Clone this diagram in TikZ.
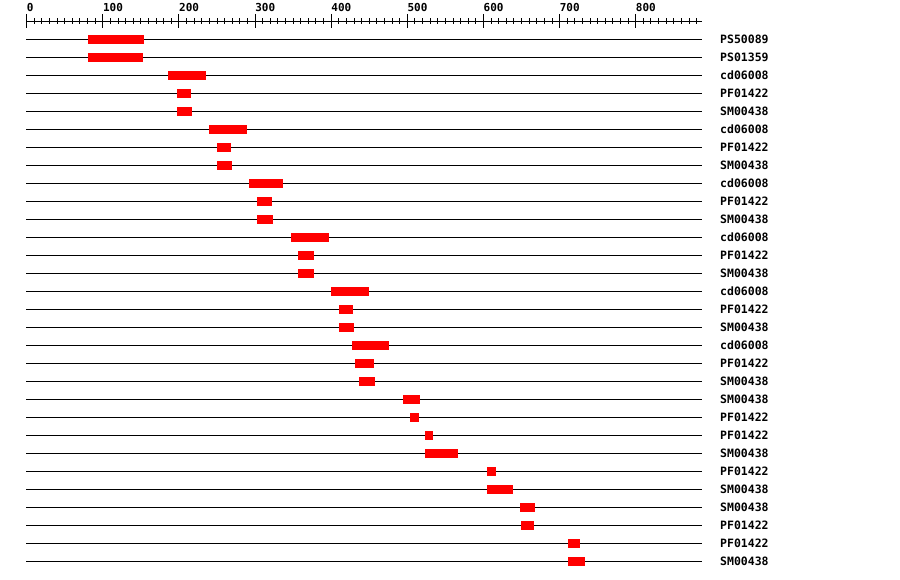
\documentclass[tikz,border=0pt]{standalone}
\usepackage{fontspec}
\newfontfamily\monob{DejaVu Sans Mono}
\begin{document}
\begin{tikzpicture}[x=1pt,y=-1pt,
  rowline/.style={line width=1pt,black},
  tickline/.style={line width=1pt,black},
  bar/.style={fill=red},
  lbl/.style={anchor=base west,inner sep=0pt,font=\monob\bfseries\fontsize{11.5}{12}\selectfont},
  axlbl/.style={anchor=base west,inner sep=0pt,font=\monob\bfseries\fontsize{11}{12}\selectfont}]
\useasboundingbox (0,0) rectangle (900,580);
\fill[white] (0,0) rectangle (900,580);
% axis
\coordinate (axs) at (26.7,21.3);
\coordinate (axe) at (701.7,21.3);
\draw[tickline] (axs) -- (axe);
\foreach \i in {0,...,88} {
  \pgfmathsetmacro\xx{26.7+\i*7.613}
  \draw[tickline] (\xx,18.3) -- (\xx,24.3);
}
\foreach \i in {0,...,8} {
  \pgfmathsetmacro\xx{26.7+\i*76.13}
  \pgfmathtruncatemacro\lab{\i*100}
  \draw[tickline] (\xx,14) -- (\xx,28.3);
  \node[axlbl] (ax\i) at (\xx,12) {\lab};
}
% rows
\foreach \r/\t/\a/\b in {
  1/PS50089/88/144, 2/PS01359/88/143, 3/cd06008/168/206, 4/PF01422/177/191,
  5/SM00438/177/192, 6/cd06008/209/247, 7/PF01422/217/231, 8/SM00438/217/232,
  9/cd06008/249/283, 10/PF01422/257/272, 11/SM00438/257/273, 12/cd06008/291/329,
  13/PF01422/298/314, 14/SM00438/298/314, 15/cd06008/331/369, 16/PF01422/339/353,
  17/SM00438/339/354, 18/cd06008/352/389, 19/PF01422/355/374, 20/SM00438/359/375,
  21/SM00438/403/420, 22/PF01422/410/419, 23/PF01422/425/433, 24/SM00438/425/458,
  25/PF01422/487/496, 26/SM00438/487/513, 27/SM00438/520/535, 28/PF01422/521/534,
  29/PF01422/568/580, 30/SM00438/568/585} {
  \pgfmathsetmacro\yy{39.3+(\r-1)*18}
  \coordinate (s\r) at (26,\yy);
  \coordinate (e\r) at (701.7,\yy);
  \draw[rowline] (s\r) -- (e\r);
  \fill[bar] (\a,\yy-4.5) rectangle (\b,\yy+4.5);
  \node[lbl] (l\r) at (720,\yy+4) {\t};
}
\end{tikzpicture}
\end{document}
